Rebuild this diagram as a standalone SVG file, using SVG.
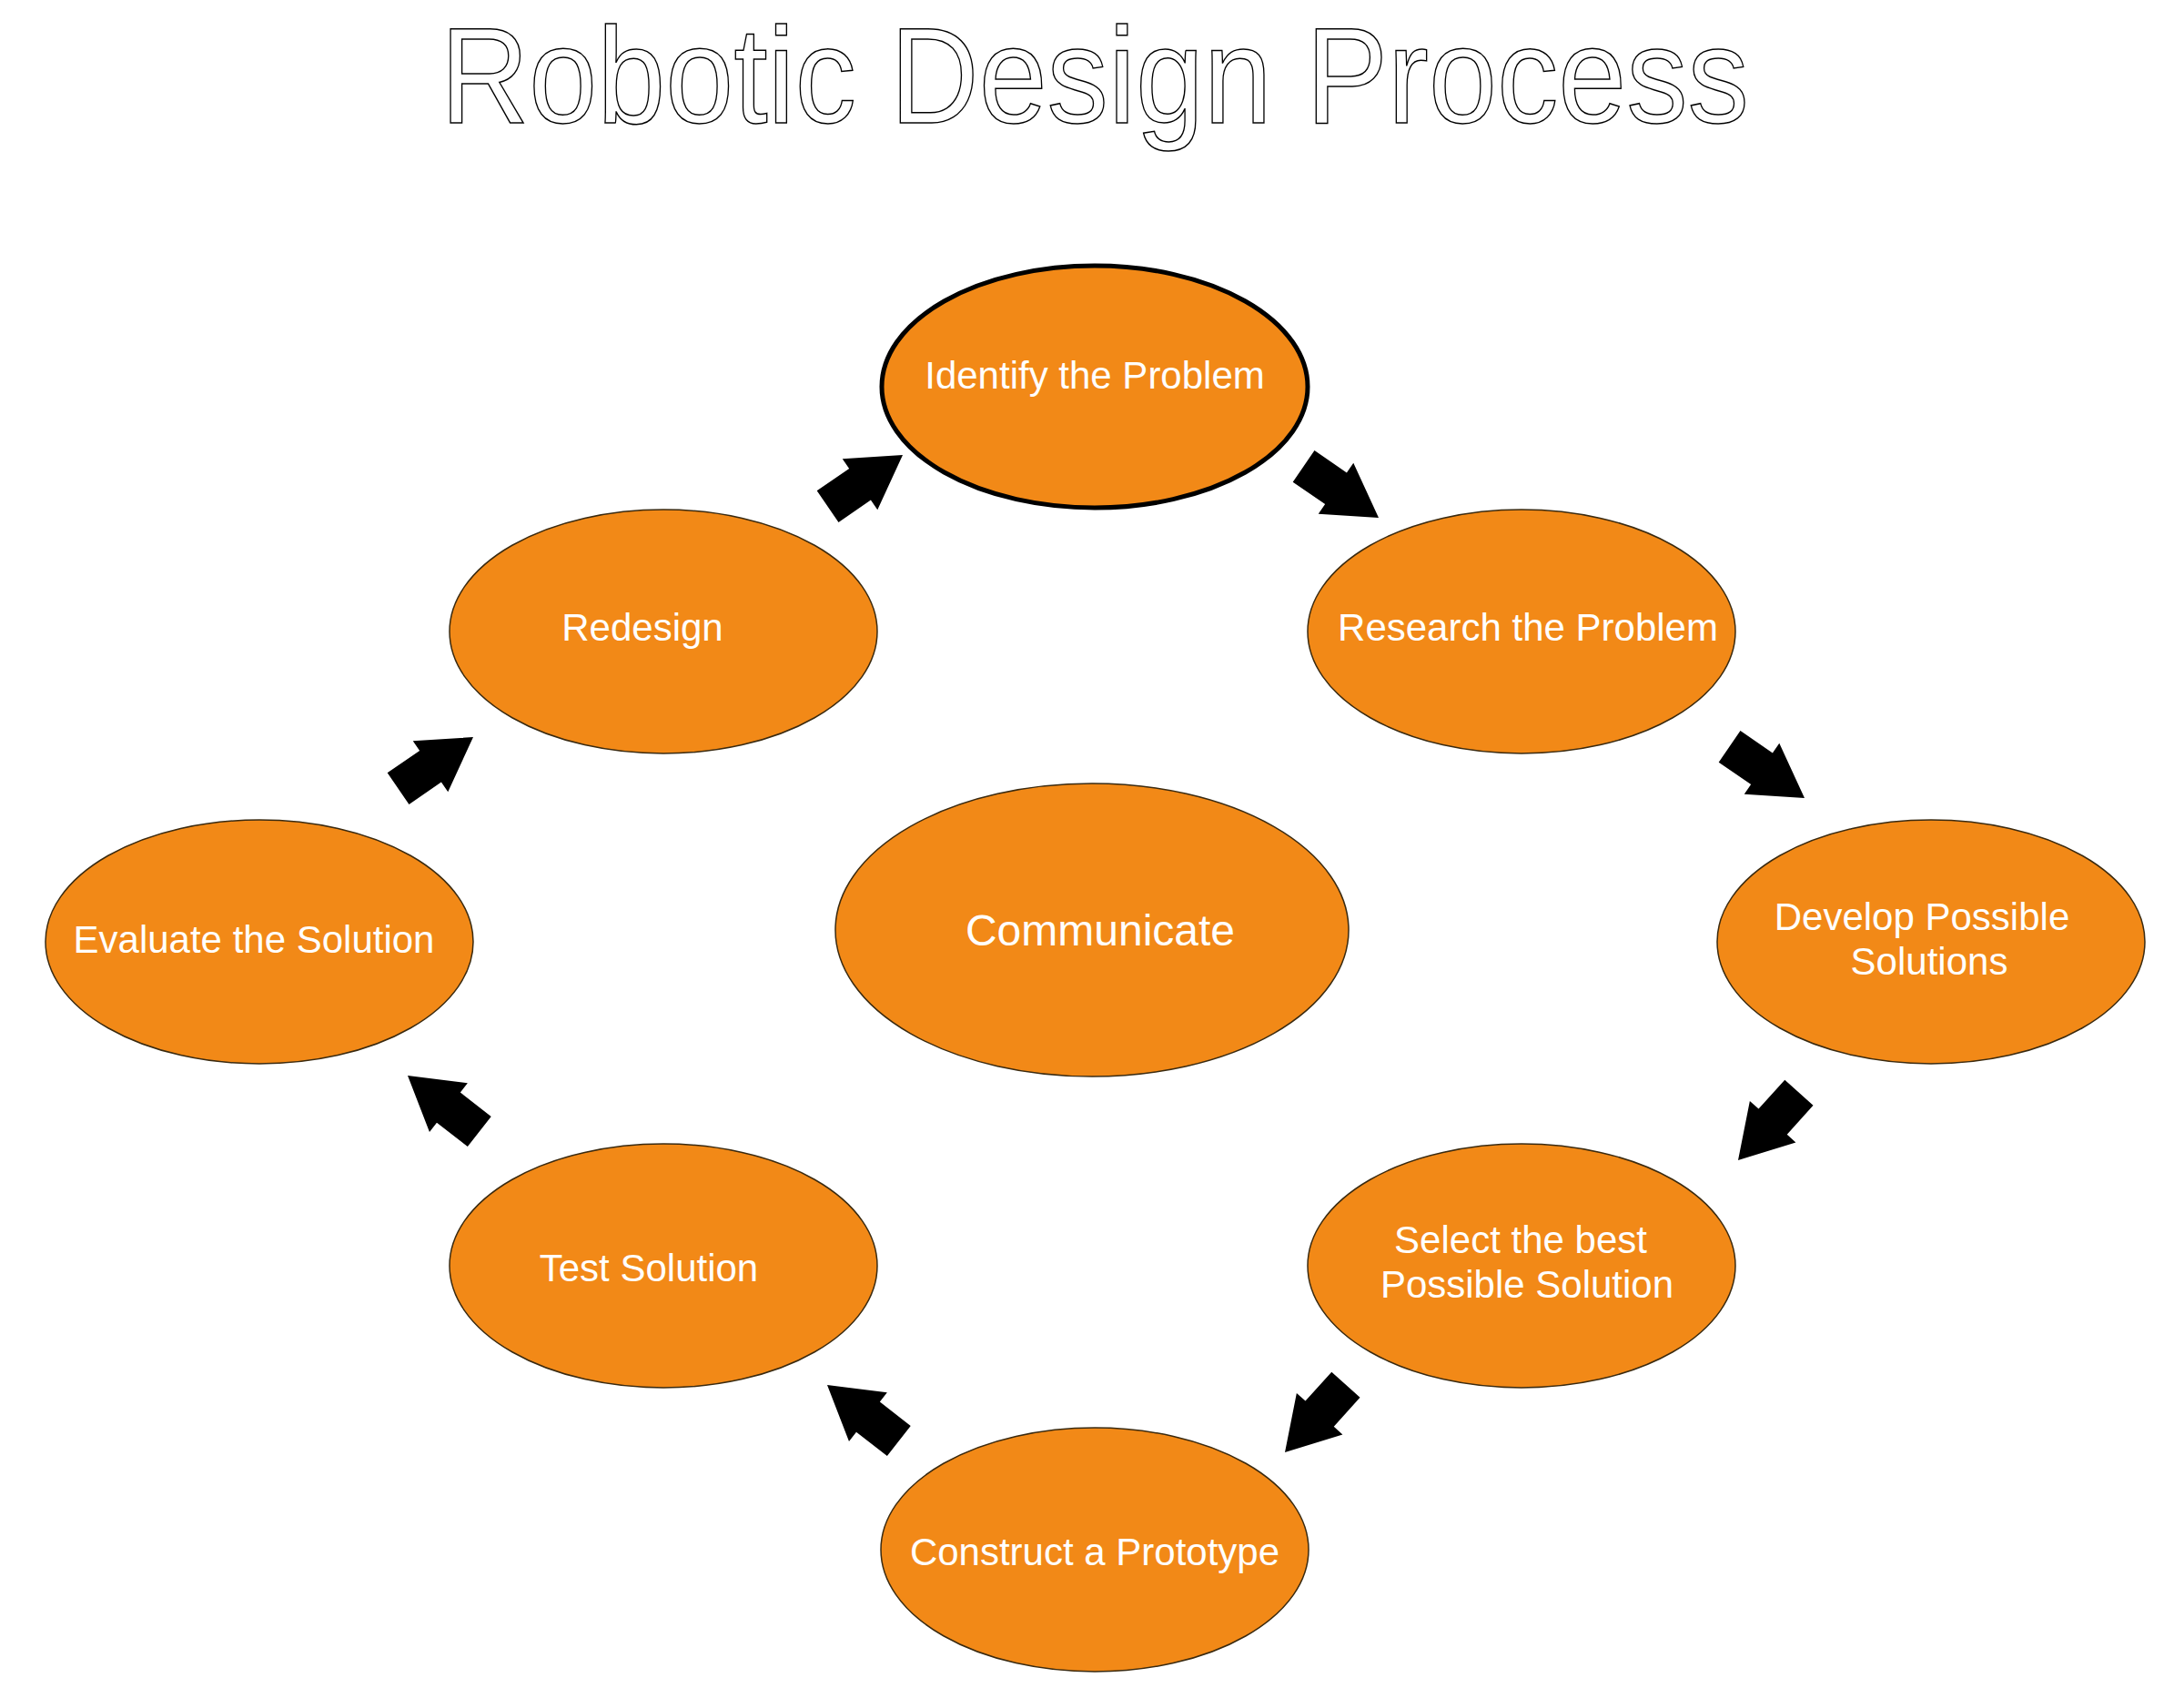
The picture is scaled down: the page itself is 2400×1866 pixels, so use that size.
<svg xmlns="http://www.w3.org/2000/svg" width="2400" height="1866" viewBox="0 0 2400 1866">
<style>
.node{fill:#F28917;stroke:#3a2a10;stroke-width:1.5}
.lbl{font-family:"Liberation Sans",Arial,sans-serif;font-size:42px;fill:#ffffff;text-anchor:middle}
.title{font-family:"Liberation Sans",Arial,sans-serif;font-size:150px;fill:#ffffff;stroke:#000;stroke-width:1.5;text-anchor:middle}
</style>
<defs>
<polygon id="arr" points="0,0 -57,-34 -57,-21 -100,-21 -100,21 -57,21 -57,34" fill="#000"/>
</defs>
<rect width="2400" height="1866" fill="#fff"/>
<text class="title" x="1203" y="135" textLength="1438" lengthAdjust="spacingAndGlyphs">Robotic Design Process</text>
<g id="connectors">
<use href="#arr" transform="translate(992,500) rotate(-34.5)"/>
<use href="#arr" transform="translate(1515,569) rotate(34.5)"/>
<use href="#arr" transform="translate(1983,877) rotate(34.5)"/>
<use href="#arr" transform="translate(1910,1275) rotate(132)"/>
<use href="#arr" transform="translate(1412,1596) rotate(132)"/>
<use href="#arr" transform="translate(909,1522) rotate(218)"/>
<use href="#arr" transform="translate(448,1182) rotate(218)"/>
<use href="#arr" transform="translate(520,810) rotate(-34.5)"/>
</g>
<g id="identify"><ellipse class="node" cx="1203" cy="425" rx="234" ry="133" style="stroke:#000;stroke-width:5"/><text class="lbl" x="1203" y="427">Identify the Problem</text></g>
<g id="research"><ellipse class="node" cx="1672" cy="694" rx="235" ry="134"/><text class="lbl" x="1679" y="704">Research the Problem</text></g>
<g id="develop"><ellipse class="node" cx="2122" cy="1035" rx="235" ry="134"/><text class="lbl" x="2112" y="1022">Develop Possible</text><text class="lbl" x="2120" y="1071">Solutions</text></g>
<g id="select"><ellipse class="node" cx="1672" cy="1391" rx="235" ry="134"/><text class="lbl" x="1671" y="1377">Select the best</text><text class="lbl" x="1678" y="1426">Possible Solution</text></g>
<g id="construct"><ellipse class="node" cx="1203" cy="1703" rx="235" ry="134"/><text class="lbl" x="1203" y="1720">Construct a Prototype</text></g>
<g id="test"><ellipse class="node" cx="729" cy="1391" rx="235" ry="134"/><text class="lbl" x="713" y="1408">Test Solution</text></g>
<g id="evaluate"><ellipse class="node" cx="285" cy="1035" rx="235" ry="134"/><text class="lbl" x="279" y="1047">Evaluate the Solution</text></g>
<g id="redesign"><ellipse class="node" cx="729" cy="694" rx="235" ry="134"/><text class="lbl" x="706" y="704">Redesign</text></g>
<g id="communicate"><ellipse class="node" cx="1200" cy="1022" rx="282" ry="161"/><text class="lbl" x="1209" y="1039" style="font-size:48px">Communicate</text></g>
</svg>
